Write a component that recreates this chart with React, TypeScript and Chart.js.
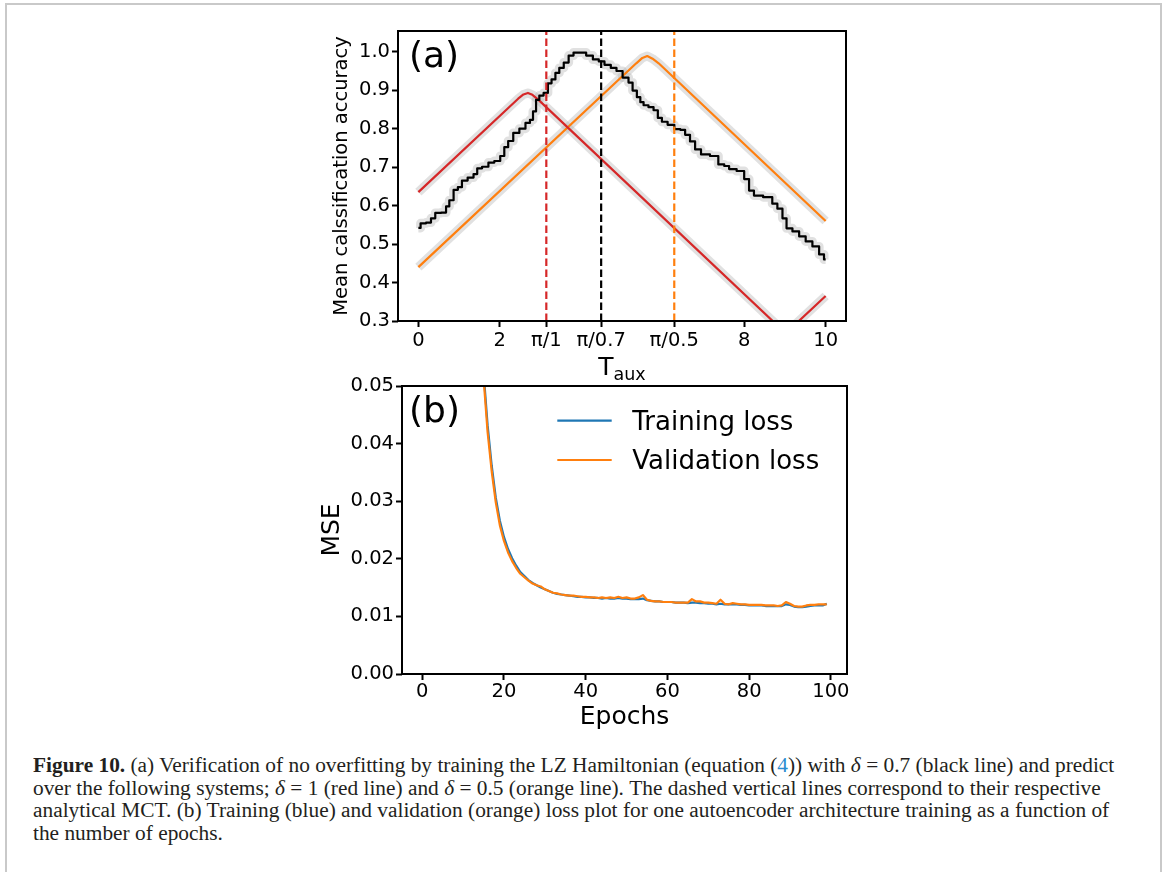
import React, { useEffect, useRef } from "react";
import { Chart, registerables } from "chart.js";

Chart.register(...registerables);

const FONT = '"DejaVu Sans", sans-serif';

// ---------------- Panel (a): mean classification accuracy vs T_aux ----------------
const blackTaux = [
  0.0, 0.11, 0.27, 0.35, 0.48, 0.64, 0.72, 0.8, 0.93, 1.01, 1.13, 1.29, 1.42, 1.47, 1.66, 1.78, 1.95,
  2.07, 2.15, 2.26, 2.4, 2.56, 2.7, 2.78, 2.85, 2.93, 3.01, 3.14, 3.22, 3.32, 3.41, 3.51, 3.63, 3.75,
  3.87, 4.04, 4.2, 4.37, 4.49, 4.65, 4.8, 4.93, 5.1, 5.22, 5.3, 5.43, 5.47, 5.59, 5.71, 5.84, 5.92,
  6.04, 6.2, 6.37, 6.49, 6.61, 6.73, 6.86, 7.02, 7.3, 7.43, 7.59, 7.67, 7.96, 8.04, 8.2, 8.28, 8.65,
  8.73, 8.9, 8.98, 9.1, 9.27, 9.43, 9.59, 9.76, 9.92, 10.0,
];
const blackAcc = [
  0.542, 0.554, 0.556, 0.567, 0.581, 0.582, 0.598, 0.614, 0.641, 0.648, 0.665, 0.673, 0.682, 0.697,
  0.701, 0.712, 0.716, 0.729, 0.752, 0.768, 0.789, 0.8, 0.815, 0.823, 0.845, 0.875, 0.886, 0.893,
  0.918, 0.928, 0.945, 0.958, 0.972, 0.99, 0.998, 0.998, 0.99, 0.98, 0.975, 0.966, 0.958, 0.95,
  0.933, 0.92, 0.899, 0.882, 0.869, 0.861, 0.856, 0.848, 0.828, 0.818, 0.81, 0.799, 0.797, 0.784,
  0.767, 0.746, 0.733, 0.729, 0.707, 0.703, 0.695, 0.69, 0.669, 0.639, 0.626, 0.622, 0.605, 0.592,
  0.567, 0.541, 0.533, 0.52, 0.507, 0.494, 0.473, 0.46,
];
const redTaux = [0, 2.45, 2.58, 2.69, 2.8, 2.95, 9.02, 10];
const redAcc = [0.635, 0.878, 0.889, 0.893, 0.888, 0.875, 0.268, 0.365];
const orangeTaux = [0, 5.35, 5.5, 5.62, 5.75, 5.9, 10];
const orangeAcc = [0.44, 0.97, 0.984, 0.989, 0.982, 0.97, 0.56];
const mctTaux = [Math.PI / 1, Math.PI / 0.7, Math.PI / 0.5];
const mctColors = ["#d62728", "#000000", "#ff7f0e"];
const accXTicks = [0, 2, Math.PI / 1, Math.PI / 0.7, Math.PI / 0.5, 8, 10];
const accXTickLabels = ["0", "2", "π/1", "π/0.7", "π/0.5", "8", "10"];
const accYTicks = [0.3, 0.4, 0.5, 0.6, 0.7, 0.8, 0.9, 1.0];
const accXRange = [-0.5, 10.5];
const accYRange = [0.3, 1.054];

// ---------------- Panel (b): training / validation loss ----------------
const epochs = Array.from({ length: 100 }, (_, i) => i);
const trainLoss = [
  0.4, 0.33, 0.28, 0.24, 0.21, 0.185, 0.165, 0.147, 0.132, 0.119, 0.108, 0.098, 0.089, 0.078, 0.064,
  0.0525, 0.0432, 0.0362, 0.0306, 0.0266, 0.0238, 0.0217, 0.0201, 0.0188, 0.0177, 0.017, 0.0163,
  0.0158, 0.0154, 0.015, 0.0147, 0.0144, 0.0141, 0.0139, 0.0138, 0.0137, 0.0136, 0.0135, 0.0134,
  0.0134, 0.0133, 0.0133, 0.0132, 0.0132, 0.0131, 0.0132, 0.0131, 0.0131, 0.0132, 0.0131, 0.0131,
  0.013, 0.013, 0.013, 0.0131, 0.0128, 0.0127, 0.0126, 0.0126, 0.0125, 0.0125, 0.0125, 0.0124,
  0.0124, 0.0124, 0.0123, 0.0124, 0.0124, 0.0123, 0.0123, 0.0122, 0.0122, 0.0121, 0.0122, 0.0121,
  0.0121, 0.0121, 0.0121, 0.012, 0.012, 0.0119, 0.0119, 0.0119, 0.0119, 0.0118, 0.0118, 0.0118,
  0.0118, 0.0118, 0.0121, 0.012, 0.0117, 0.0116, 0.0116, 0.0117, 0.0118, 0.0119, 0.0119, 0.0119, 0.0122,
];
const valLoss = [
  0.39, 0.32, 0.27, 0.235, 0.205, 0.18, 0.16, 0.143, 0.128, 0.116, 0.105, 0.095, 0.086, 0.075, 0.062,
  0.0515, 0.042, 0.0352, 0.0298, 0.0258, 0.0231, 0.0211, 0.0196, 0.0184, 0.0174, 0.0168, 0.0162,
  0.0157, 0.0154, 0.0152, 0.0147, 0.0144, 0.0141, 0.014, 0.0138, 0.0137, 0.0136, 0.0136, 0.0135,
  0.0134, 0.0134, 0.0133, 0.0133, 0.0132, 0.0133, 0.0132, 0.0133, 0.0132, 0.0134, 0.0132, 0.0133,
  0.0131, 0.0131, 0.0133, 0.0137, 0.0129, 0.0127, 0.0126, 0.0126, 0.0125, 0.0125, 0.0125, 0.0124,
  0.0124, 0.0124, 0.0124, 0.013, 0.0126, 0.0126, 0.0124, 0.0124, 0.0123, 0.0122, 0.0129, 0.0122,
  0.0121, 0.0123, 0.0122, 0.0121, 0.0121, 0.012, 0.012, 0.012, 0.012, 0.0119, 0.0119, 0.0119, 0.0118,
  0.0119, 0.0125, 0.0122, 0.0118, 0.0117, 0.0117, 0.0119, 0.012, 0.012, 0.0121, 0.0121, 0.0121,
];
const lossXTicks = [0, 20, 40, 60, 80, 100];
const lossYTicks = [0, 0.01, 0.02, 0.03, 0.04, 0.05];
const lossXRange = [-4.95, 103.95];
const lossYRange = [0, 0.05];
const legendLabels = ["Training loss", "Validation loss"];
const lossColors = ["#1f77b4", "#ff7f0e"];

const pts = (xs: number[], ys: number[]) => xs.map((x, i) => ({ x, y: ys[i] }));

const framePlugin = {
  id: "frame",
  afterDatasetsDraw(chart: any) {
    const { ctx, chartArea } = chart;
    const l = Math.round(chartArea.left), t = Math.round(chartArea.top);
    const r = Math.round(chartArea.right), b = Math.round(chartArea.bottom);
    ctx.save();
    ctx.strokeStyle = "#000";
    ctx.lineWidth = 2;
    ctx.strokeRect(l, t, r - l, b - t);
    ctx.restore();
  },
};

function makeAxis(o: any) {
  return {
    type: "linear",
    min: o.range[0],
    max: o.range[1],
    afterBuildTicks: (s: any) => {
      s.ticks = o.ticks.map((v: number) => ({ value: v }));
    },
    afterFit: (s: any) => {
      if (o.horizontal) s.height = o.size;
      else s.width = o.size;
    },
    ticks: {
      autoSkip: false,
      maxRotation: 0,
      minRotation: 0,
      padding: o.pad,
      color: "#000",
      font: { family: FONT, size: 19.5 },
      callback: (_v: any, i: number) => o.labels[i],
    },
    grid: {
      display: true,
      drawOnChartArea: false,
      drawTicks: true,
      tickLength: 6,
      tickWidth: 2,
      tickColor: "#000",
    },
    border: { display: false },
    title: o.title,
  };
}

export default function App() {
  const refA = useRef<HTMLCanvasElement>(null);
  const refB = useRef<HTMLCanvasElement>(null);

  useEffect(() => {
    const panelA = {
      id: "panelA",
      afterDraw(chart: any) {
        const { ctx, chartArea } = chart;
        ctx.save();
        ctx.fillStyle = "#000";
        ctx.textBaseline = "alphabetic";
        ctx.textAlign = "left";
        ctx.font = `36px ${FONT}`;
        ctx.fillText("(a)", chartArea.left + 11, chartArea.top + 36);
        // x-axis title T_aux
        ctx.font = `25px ${FONT}`;
        const wT = ctx.measureText("T").width;
        ctx.font = `17.5px ${FONT}`;
        const wS = ctx.measureText("aux").width;
        const cx = (chartArea.left + chartArea.right) / 2;
        const x0 = cx - (wT + wS) / 2;
        const base = chartArea.bottom + 54;
        ctx.font = `25px ${FONT}`;
        ctx.fillText("T", x0, base);
        ctx.font = `17.5px ${FONT}`;
        ctx.fillText("aux", x0 + wT, base + 5);
        ctx.restore();
      },
    };

    const band = "rgba(165,165,165,0.33)";
    const chartA = new Chart(refA.current as HTMLCanvasElement, {
      type: "line",
      data: {
        datasets: [
          ...mctTaux.map((v, i) => ({
            data: [
              { x: v, y: accYRange[0] },
              { x: v, y: accYRange[1] },
            ],
            borderColor: mctColors[i],
            borderWidth: 2.2,
            borderDash: [7.5, 3.5],
            order: 0,
          })),
          { data: pts(blackTaux, blackAcc), borderColor: "#000", borderWidth: 2.2, order: 1, stepped: "middle" },
          { data: pts(redTaux, redAcc), borderColor: "#d62728", borderWidth: 2.2, order: 2 },
          { data: pts(orangeTaux, orangeAcc), borderColor: "#ff7f0e", borderWidth: 2.2, order: 2 },
          { data: pts(blackTaux, blackAcc), borderColor: band, borderWidth: 9, order: 5, stepped: "middle" },
          { data: pts(redTaux, redAcc), borderColor: band, borderWidth: 9, order: 5 },
          { data: pts(orangeTaux, orangeAcc), borderColor: band, borderWidth: 9, order: 5 },
        ].map((d: any) => ({
          pointRadius: 0,
          tension: 0,
          fill: false,
          clip: 0,
          borderJoinStyle: "round",
          borderCapStyle: "butt",
          ...d,
        })),
      },
      options: {
        animation: false,
        responsive: false,
        devicePixelRatio: 1,
        layout: { padding: { top: 16, right: 14, left: 0, bottom: 0 } },
        plugins: { legend: { display: false }, tooltip: { enabled: false } },
        scales: {
          x: makeAxis({
            horizontal: true,
            range: accXRange,
            ticks: accXTicks,
            labels: accXTickLabels,
            size: 69,
            pad: 2,
            title: { display: false },
          }),
          y: makeAxis({
            horizontal: false,
            range: accYRange,
            ticks: accYTicks,
            labels: accYTicks.map((v) => v.toFixed(1)),
            size: 98,
            pad: 2,
            title: {
              display: true,
              text: "Mean calssification accuracy",
              color: "#000",
              font: { family: FONT, size: 19.5, lineHeight: 1 },
              padding: { top: 32.6, bottom: 0 },
            },
          }),
        },
      } as any,
      plugins: [framePlugin, panelA],
    });

    const panelB = {
      id: "panelB",
      afterDraw(chart: any) {
        const { ctx, chartArea } = chart;
        ctx.save();
        ctx.fillStyle = "#000";
        ctx.textBaseline = "alphabetic";
        ctx.textAlign = "left";
        ctx.font = `36px ${FONT}`;
        ctx.fillText("(b)", chartArea.left + 7, chartArea.top + 36);
        ctx.font = `26px ${FONT}`;
        legendLabels.forEach((lab, i) => {
          const y = chartArea.top + 34.7 + i * 39.3;
          ctx.strokeStyle = lossColors[i];
          ctx.lineWidth = 2.2;
          ctx.beginPath();
          ctx.moveTo(chartArea.left + 155.3, y);
          ctx.lineTo(chartArea.left + 209.7, y);
          ctx.stroke();
          ctx.fillText(lab, chartArea.left + 230.3, y + 9);
        });
        ctx.restore();
      },
    };

    const chartB = new Chart(refB.current as HTMLCanvasElement, {
      type: "line",
      data: {
        datasets: [
          { data: pts(epochs, valLoss), borderColor: lossColors[1], order: 1 },
          { data: pts(epochs, trainLoss), borderColor: lossColors[0], order: 2 },
        ].map((d: any) => ({
          pointRadius: 0,
          tension: 0,
          fill: false,
          clip: 0,
          borderWidth: 2.2,
          borderJoinStyle: "round",
          ...d,
        })),
      },
      options: {
        animation: false,
        responsive: false,
        devicePixelRatio: 1,
        layout: { padding: { top: 16, right: 23, left: 0, bottom: 0 } },
        plugins: { legend: { display: false }, tooltip: { enabled: false } },
        scales: {
          x: makeAxis({
            horizontal: true,
            range: lossXRange,
            ticks: lossXTicks,
            labels: lossXTicks.map((v) => String(v)),
            size: 76,
            pad: 0,
            title: {
              display: true,
              text: "Epochs",
              color: "#000",
              font: { family: FONT, size: 25, lineHeight: 1 },
              padding: { top: 0, bottom: 20.5 },
            },
          }),
          y: makeAxis({
            horizontal: false,
            range: lossYRange,
            ticks: lossYTicks,
            labels: lossYTicks.map((v) => v.toFixed(2)),
            size: 102,
            pad: 2,
            title: {
              display: true,
              text: "MSE",
              color: "#000",
              font: { family: FONT, size: 25, lineHeight: 1 },
              padding: { top: 19.5, bottom: 0 },
            },
          }),
        },
      } as any,
      plugins: [framePlugin, panelB],
    });

    return () => {
      chartA.destroy();
      chartB.destroy();
    };
  }, []);

  const link = { color: "#2a8bd0" };
  return (
    <div
      style={{
        position: "fixed",
        left: 0,
        top: 0,
        width: 1165,
        height: 872,
        overflow: "hidden",
        background: "#fff",
      }}
    >
      <div
        style={{
          position: "absolute",
          left: 5,
          top: 3,
          width: 1153,
          height: 900,
          border: "2px solid #c9c9c9",
          borderBottom: "none",
        }}
      />
      <canvas
        ref={refA}
        width={560}
        height={375}
        style={{ position: "absolute", left: 300, top: 15, width: 560, height: 375 }}
      />
      <canvas
        ref={refB}
        width={570}
        height={380}
        style={{ position: "absolute", left: 300, top: 370, width: 570, height: 380 }}
      />
      <div
        style={{
          position: "absolute",
          left: 33,
          top: 754,
          fontFamily: '"Liberation Serif", "Times New Roman", serif',
          fontSize: 20.5,
          lineHeight: "22.7px",
          color: "#231f20",
          whiteSpace: "nowrap",
          transform: "scaleX(1.042)",
          transformOrigin: "0 0",
        }}
      >
        <div>
          <b>Figure 10.</b> (a) Verification of no overfitting by training the LZ Hamiltonian (equation (
          <span style={link}>4</span>)) with <i>δ</i> = 0.7 (black line) and predict
        </div>
        <div>
          over the following systems; <i>δ</i> = 1 (red line) and <i>δ</i> = 0.5 (orange line). The dashed
          vertical lines correspond to their respective
        </div>
        <div>
          analytical MCT. (b) Training (blue) and validation (orange) loss plot for one autoencoder
          architecture training as a function of
        </div>
        <div>the number of epochs.</div>
      </div>
    </div>
  );
}
